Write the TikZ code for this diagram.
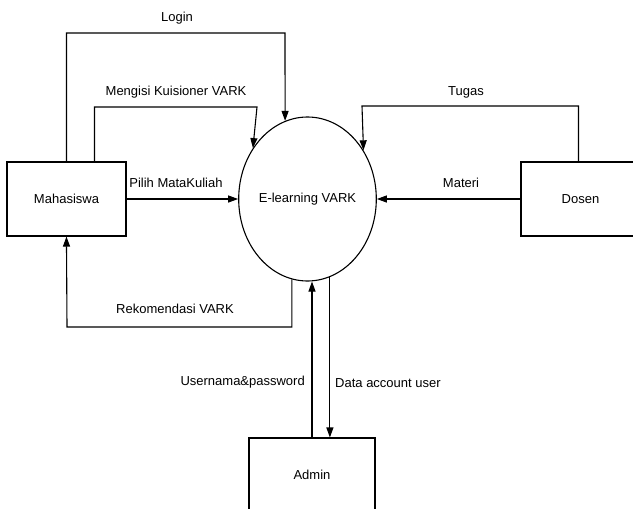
\documentclass[tikz,border=0pt]{standalone}
\usepackage{fontspec}
\setmainfont{Liberation Sans}
\usetikzlibrary{shapes.geometric,arrows.meta}

\tikzset{
  entity/.style={draw, line width=1.1pt, rectangle, minimum width=119pt, minimum height=74pt, inner sep=0pt},
  process/.style={draw, line width=1.1pt, ellipse, minimum width=135pt, minimum height=164pt, inner sep=0pt},
  flow/.style={draw, line width=1.1pt, -{Triangle[length=10pt,width=7pt]}},
  lbl/.style={inner sep=0pt, font=\fontsize{13}{15}\selectfont}
}

\begin{document}
\begin{tikzpicture}[x=1pt, y=-1pt, font=\fontsize{13}{15}\selectfont]
  \useasboundingbox (0,0) rectangle (633,509);
  \clip (0,0) rectangle (633,509);

  % external entities and the process
  \node[entity] (mhs) at (66.5,199) {Mahasiswa};
  \node[entity] (dos) at (580.5,199) {Dosen};
  \node[entity, minimum width=126pt] (adm) at (312,475) {Admin};
  \node[process] (ell) at (307.5,199) {E-learning VARK};

  % bend points
  \coordinate (lgA) at (285,33);
  \coordinate (mkA) at (257,107);
  \coordinate (tgA) at (362,106);
  \coordinate (rkA) at (67,327);

  % Mahasiswa -> process
  \draw[flow] ([xshift=60]mhs.north west) |- (lgA) -- (ell.106);
  \draw[flow] ([xshift=88]mhs.north west) |- (mkA) -- (ell.137);
  \draw[flow] (mhs.east) -- (ell.west);

  % process -> Mahasiswa
  \draw[flow] (ell.259) |- (rkA) -- ([xshift=60]mhs.south west);

  % Dosen -> process
  \draw[flow] ([xshift=-2]dos.north) |- (tgA) -- (ell.41);
  \draw[flow] (dos.west) -- (ell.east);

  % Admin <-> process
  \draw[flow] (adm.north) -- (adm.north |- ell.south);
  \draw[flow] (ell.286) -- (ell.286 |- adm.north);

  % flow labels
  \node[lbl] (tLogin) at (177,18) {Login};
  \node[lbl] (tMengisi) at (176,92) {Mengisi Kuisioner VARK};
  \node[lbl] (tPilih) at (176,183) {Pilih MataKuliah};
  \node[lbl] (tTugas) at (466,92) {Tugas};
  \node[lbl] (tMateri) at (461,183) {Materi};
  \node[lbl] (tRek) at (175,309) {Rekomendasi VARK};
  \node[lbl, anchor=east] (tUser) at (305,382) {Usernama\&password};
  \node[lbl, anchor=west] (tData) at (335,383) {Data account user};
\end{tikzpicture}
\end{document}
